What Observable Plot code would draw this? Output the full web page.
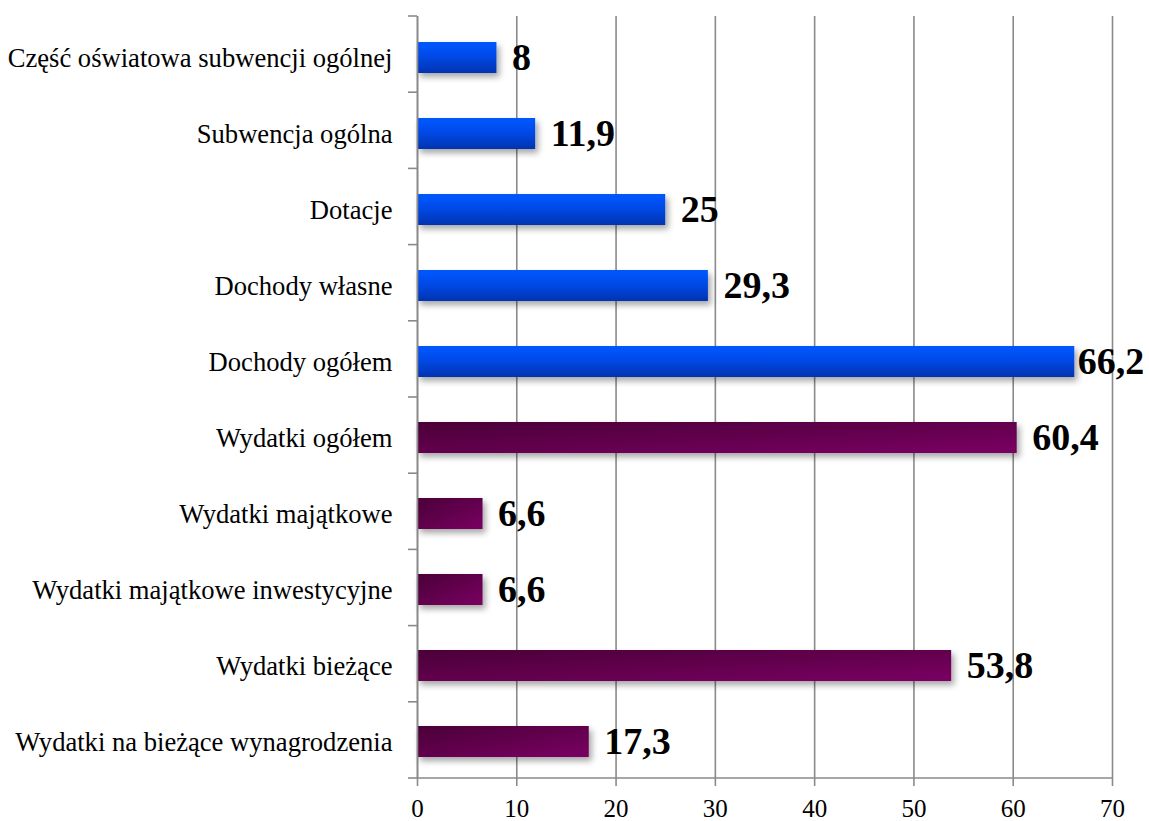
<!DOCTYPE html>
<html>
<head>
<meta charset="utf-8">
<script src="https://cdn.jsdelivr.net/npm/d3@7"></script>
<script src="https://cdn.jsdelivr.net/npm/@observablehq/plot@0.6"></script>
<style>
  html, body { margin: 0; padding: 0; background: #fff; }
  #chart svg { display: block; }
</style>
</head>
<body>
<div id="chart"></div>
<script>
const categories = [
  "Część oświatowa subwencji ogólnej",
  "Subwencja ogólna",
  "Dotacje",
  "Dochody własne",
  "Dochody ogółem",
  "Wydatki ogółem",
  "Wydatki majątkowe",
  "Wydatki majątkowe inwestycyjne",
  "Wydatki bieżące",
  "Wydatki na bieżące wynagrodzenia"
];
const values = [8, 11.9, 25, 29.3, 66.2, 60.4, 6.6, 6.6, 53.8, 17.3];
const groups = ["Dochody","Dochody","Dochody","Dochody","Dochody","Wydatki","Wydatki","Wydatki","Wydatki","Wydatki"];
const xTicks = [0, 10, 20, 30, 40, 50, 60, 70];

const data = categories.map((c, i) => ({name: c, value: values[i], group: groups[i]}));
const fmt = v => String(v).replace(".", ",");
const serif = "'Liberation Serif', 'Times New Roman', serif";
const nearEdge = d => d.value > 64; // labels squeezed against the right edge

const defs = () => {
  const d = d3.create("svg:defs");
  const b = d.append("linearGradient").attr("id", "gBlue")
    .attr("x1", 0).attr("y1", 0).attr("x2", 0).attr("y2", 1);
  b.append("stop").attr("offset", "0%").attr("stop-color", "#0058ff");
  b.append("stop").attr("offset", "45%").attr("stop-color", "#004ae8");
  b.append("stop").attr("offset", "100%").attr("stop-color", "#0033b0");
  const p = d.append("linearGradient").attr("id", "gPurple")
    .attr("x1", 0).attr("y1", 0).attr("x2", 1).attr("y2", 1);
  p.append("stop").attr("offset", "0%").attr("stop-color", "#4a0038");
  p.append("stop").attr("offset", "100%").attr("stop-color", "#7a0062");
  const f = d.append("filter").attr("id", "shadow")
    .attr("x", "-10%").attr("y", "-30%").attr("width", "130%").attr("height", "190%");
  f.append("feDropShadow").attr("dx", 3).attr("dy", 4).attr("stdDeviation", 3)
    .attr("flood-color", "#000").attr("flood-opacity", 0.35);
  return d.node();
};

const chart = Plot.plot({
  width: 1149,
  height: 821,
  marginLeft: 417,
  marginRight: 37,
  marginTop: 16,
  marginBottom: 43,
  style: {fontFamily: serif, background: "#fff", color: "#000"},
  x: {domain: [0, 70], ticks: xTicks},
  y: {domain: categories, paddingInner: 0.59, paddingOuter: 0.295, align: 0.56},
  marks: [
    defs,
    Plot.gridX(xTicks, {stroke: "#8a8a8a", strokeOpacity: 1, strokeWidth: 1.6}),
    Plot.axisX(xTicks, {tickSize: 8, tickPadding: 13, fontSize: 25, stroke: "#8a8a8a", strokeWidth: 1.6, label: null, tickFormat: d => String(d), fill: "#000"}),
    Plot.axisY({tickSize: 0, tickPadding: 25, fontSize: 26.6, label: null, fill: "#000"}),
    Plot.barX(data.filter(d => d.group === "Dochody"), {x: "value", y: "name", fill: "url(#gBlue)"}),
    Plot.barX(data.filter(d => d.group === "Wydatki"), {x: "value", y: "name", fill: "url(#gPurple)"}),
    Plot.ruleX([0], {stroke: "#8a8a8a", strokeWidth: 1.6}),
    Plot.text(data.filter(d => !nearEdge(d)), {x: "value", y: "name", text: d => fmt(d.value), dx: 15, textAnchor: "start",
      fontSize: 38, fontWeight: "bold", fill: "#000"}),
    Plot.text(data.filter(nearEdge), {x: "value", y: "name", text: d => fmt(d.value), dx: 3, textAnchor: "start",
      fontSize: 38, fontWeight: "bold", fill: "#000"})
  ]
});

document.getElementById("chart").appendChild(chart);

// shadows on bars
const svg = d3.select(chart.tagName.toLowerCase() === "svg" ? chart : chart.querySelector("svg"));
svg.selectAll("g[aria-label='bar']").attr("filter", "url(#shadow)");

// band-boundary ticks on the y axis and bottom axis line, from the scales
const ys = chart.scale("y");
const xs = chart.scale("x");
const [r0, r1] = ys.range;
const n = ys.domain.length;
const step = (r1 - r0) / n;
const x0 = xs.apply(0);
const x1 = xs.apply(70);
const g = svg.append("g").attr("stroke", "#8a8a8a").attr("stroke-width", 1.6);
for (let i = 0; i <= n; i++) {
  const yy = r0 + i * step;
  g.append("line").attr("x1", x0 - 9).attr("x2", x0).attr("y1", yy).attr("y2", yy);
}
g.append("line").attr("x1", x0).attr("x2", x1).attr("y1", r1).attr("y2", r1);
</script>
</body>
</html>
